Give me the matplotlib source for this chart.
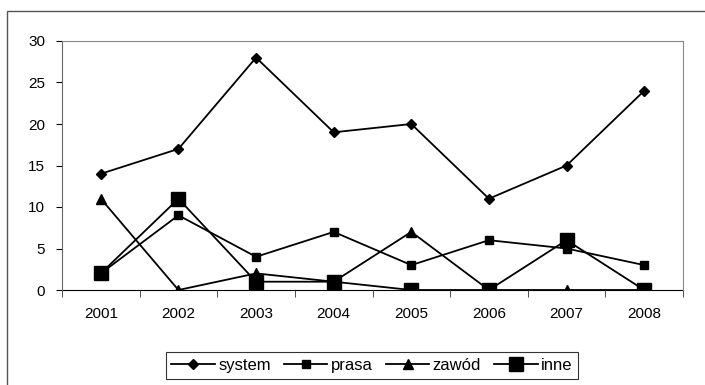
import matplotlib
matplotlib.use("Agg")
import matplotlib.pyplot as plt
from matplotlib.patches import Rectangle

plt.rcParams['font.family'] = ['Liberation Sans', 'DejaVu Sans']

years = ['2001', '2002', '2003', '2004', '2005', '2006', '2007', '2008']
system = [14, 17, 28, 19, 20, 11, 15, 24]
prasa = [2, 9, 4, 7, 3, 6, 5, 3]
zawod = [11, 0, 2, 1, 7, 0, 0, 0]
inne = [2, 11, 1, 1, 0, 0, 6, 0]

fig = plt.figure(figsize=(7.05, 3.85), dpi=100)
# outer chart frame
fig.patches.append(Rectangle((7/705, -0.1), 1.1, 0.1 + (385-11)/385, transform=fig.transFigure,
                             fill=False, edgecolor='#555555', lw=1.0))

ax = fig.add_axes([62/705, 1 - 290/385, 621/705, 249/385])
x = range(len(years))
ax.plot(x, system, color='black', lw=1.3, marker='D', ms=5, label='system')
ax.plot(x, prasa, color='black', lw=1.3, marker='s', ms=6, label='prasa')
ax.plot(x, zawod, color='black', lw=1.3, marker='^', ms=7, label='zawód')
ax.plot(x, inne, color='black', lw=1.3, marker='s', ms=10.5, label='inne')

ax.set_xlim(-0.5, 7.5)
ax.set_ylim(0, 30)
ax.set_yticks(range(0, 31, 5))
ax.set_xticks(list(x))
ax.set_xticklabels(years)
ax.set_xticks([i - 0.5 for i in range(9)], minor=True)
ax.tick_params(axis='x', which='major', length=0, pad=12, labelsize=11)
ax.tick_params(axis='x', which='minor', length=5, direction='out', color='#333333')
ax.tick_params(axis='y', length=4, direction='out', labelsize=11, pad=8)
for s in ['top', 'right']:
    ax.spines[s].set_color('#888888')
ax.spines['bottom'].set_color('black')
ax.spines['left'].set_color('#666666')
ax.spines['bottom'].set_zorder(0)

leg = fig.legend(loc='upper center', bbox_to_anchor=(372/705, 1 - 352/385), ncol=4,
                 frameon=True, fancybox=False, edgecolor='black', fontsize=12,
                 handlelength=2.6, handletextpad=0.2, columnspacing=0.8,
                 borderpad=0.35, borderaxespad=0)
leg.get_frame().set_linewidth(0.8)

fig.savefig('out.png', dpi=100)
